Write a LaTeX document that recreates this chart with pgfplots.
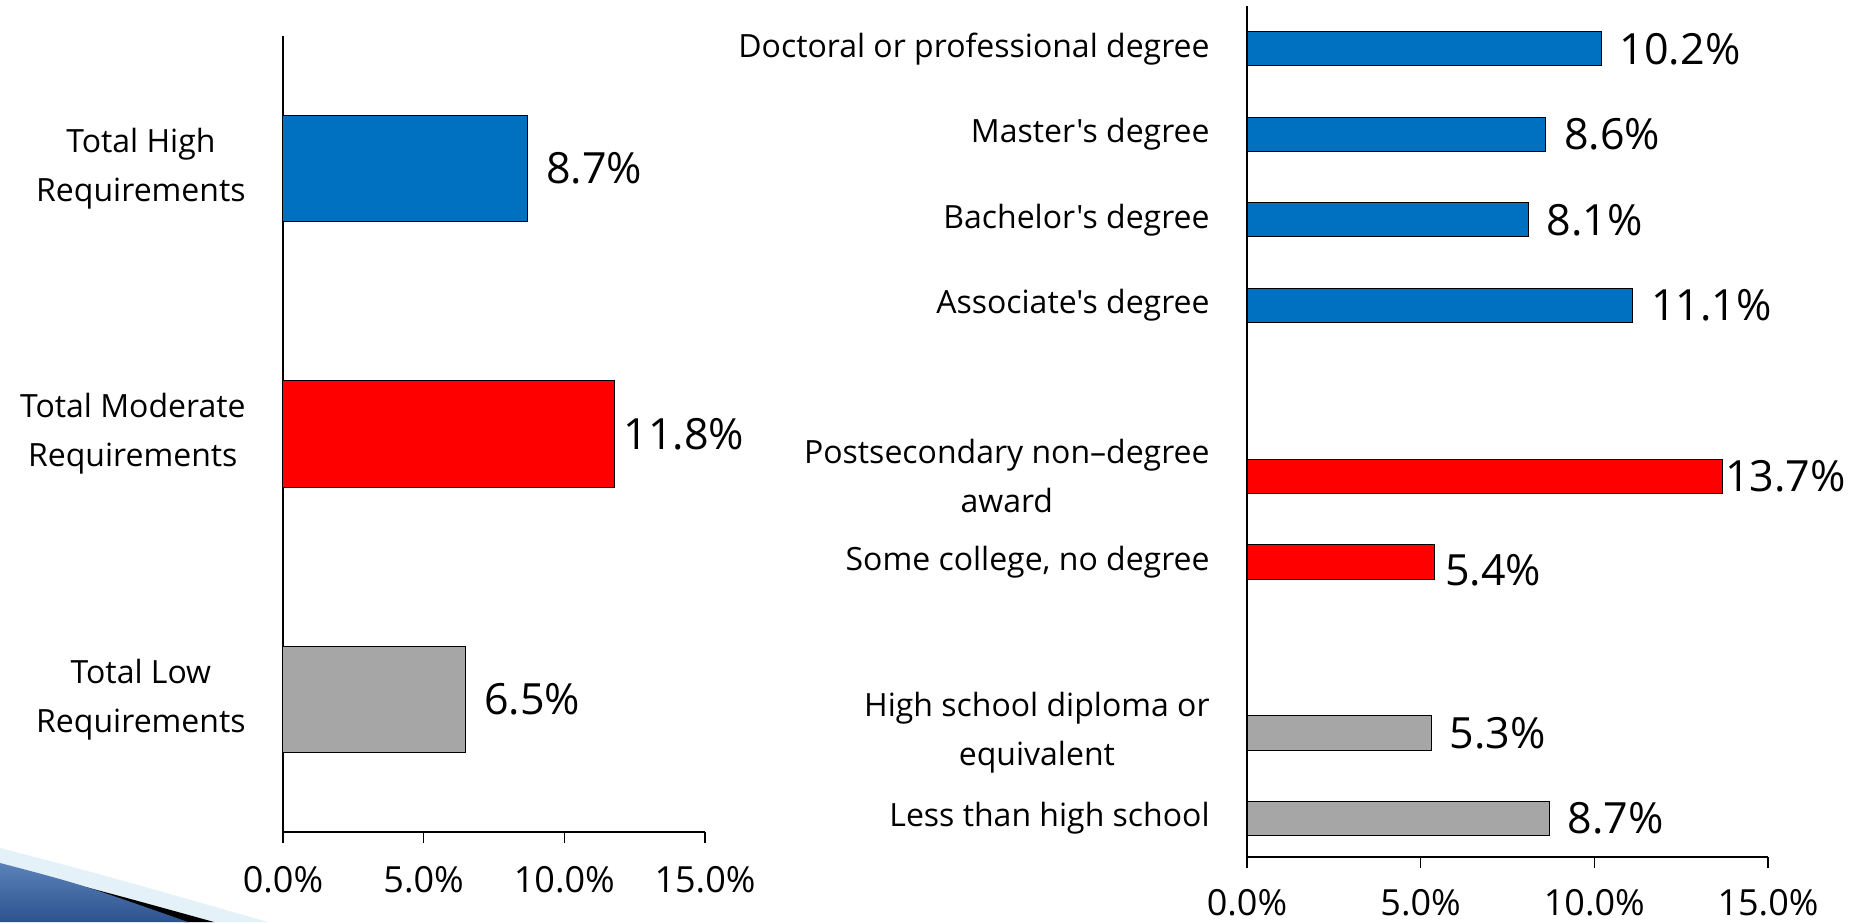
\documentclass[border=0pt]{standalone}
\usepackage{pgfplots}
\pgfplotsset{compat=1.18}
\usepackage{fontspec}
\setmainfont{Open Sans}[Ligatures=TeXOff]
\definecolor{hiblue}{RGB}{0,112,192}
\definecolor{modred}{RGB}{255,0,0}
\definecolor{lowgray}{RGB}{166,166,166}
\definecolor{swoosh}{RGB}{52,98,168}

\pgfplotsset{
  barchart/.style={
    scale only axis,
    xbar, bar width=0.4, bar shift=0pt,
    xmin=0, xmax=15,
    axis lines=left,
    axis line style={-, line width=0.8pt},
    xtick={0,5,10,15},
    xticklabels={0.0\%,5.0\%,10.0\%,15.0\%},
    tick align=outside,
    major tick length=5.5pt,
    xtick style={black, line width=0.6pt},
    ytick style={draw=none},
    xticklabel style={font=\fontsize{18}{21}\selectfont, anchor=north, inner sep=0pt, yshift=-11.5pt},
    yticklabel style={font=\fontsize{16}{24.4}\selectfont, align=center, anchor=east, inner sep=0pt, xshift=-13pt},
    every axis plot/.append style={draw=black, line width=0.5pt},
    /pgf/number format/assume math mode=true,
    point meta=x,
    nodes near coords={\pgfmathprintnumber[fixed,fixed zerofill,precision=1]{\pgfplotspointmeta}\%},
    every node near coord/.append style={font=\fontsize{21.5}{25}\selectfont, anchor=west, inner sep=0pt, xshift=9pt, black},
  }
}

\begin{document}
\begin{tikzpicture}
\useasboundingbox (0,0) rectangle (932pt,461pt);

% slide template corner decoration
\fill[hiblue!10] (0,0) -- (0,37pt) .. controls (50pt,24pt) .. (134pt,0) -- cycle;
\fill[black] (22pt,23pt) .. controls (60pt,13pt) .. (107pt,0) -- (92pt,0) .. controls (55pt,12pt) .. (22pt,23pt) -- cycle;
\shade[top color=swoosh!80!white, bottom color=swoosh!85!black] (0,0) -- (0,29.5pt) .. controls (40pt,19pt) .. (94pt,0) -- cycle;

% left panel
\begin{axis}[barchart,
  at={(141.5pt,45pt)}, anchor=south west,
  width=211pt, height=398pt,
  ymin=-0.5, ymax=2.5,
  ytick={0,1,2},
  yticklabels={{Total Low\\Requirements},{Total Moderate\\Requirements},{Total High\\Requirements}},
]
\addplot[fill=hiblue] coordinates {(8.7,2)};
\addplot[fill=modred, every node near coord/.append style={xshift=-5pt}] coordinates {(11.8,1)};
\addplot[fill=lowgray] coordinates {(6.5,0)};
\end{axis}

% right panel
\begin{axis}[barchart,
  at={(623.5pt,32.5pt)}, anchor=south west,
  width=260.5pt, height=425.5pt,
  ymin=-0.45, ymax=9.5,
  xticklabel style={yshift=1pt},
  ytick={0,1,3,4,6,7,8,9},
  yticklabels={Less than high school,{High school diploma or\\equivalent},{Some college, no degree},{Postsecondary non–degree\\award},Associate's degree,Bachelor's degree,Master's degree,Doctoral or professional degree},
]
\addplot[fill=hiblue] coordinates {(10.2,9) (8.6,8) (8.1,7) (11.1,6)};
\addplot[fill=modred, every node near coord/.append style={xshift=-8pt}] coordinates {(13.7,4)};
\addplot[fill=modred, every node near coord/.append style={xshift=-4pt, yshift=-4pt}] coordinates {(5.4,3)};
\addplot[fill=lowgray] coordinates {(5.3,1) (8.7,0)};
\end{axis}
\end{tikzpicture}
\end{document}
